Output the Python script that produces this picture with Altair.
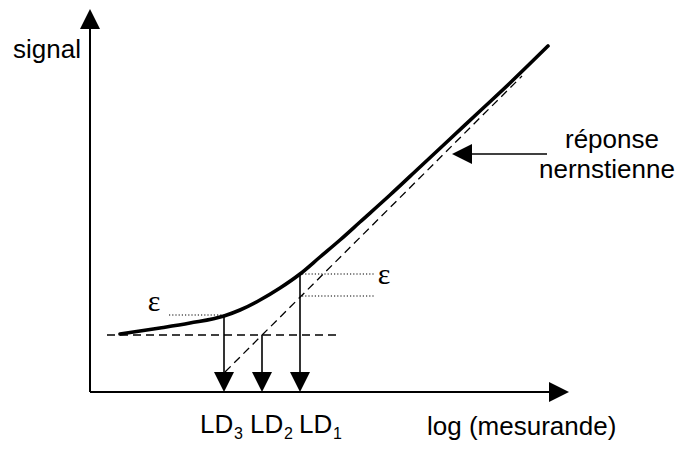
import altair as alt
import pandas as pd

# --- schematic values (reference pixel space) ---
curve_x = [120, 160, 190, 224, 240, 260, 280, 300, 320, 340, 360, 390, 420, 450, 480, 510, 548]
curve_y = [334, 328, 323, 316, 310, 300, 288, 274, 257, 240, 222, 195, 167, 139, 111, 83, 46]

axis_x1 = [90, 90]
axis_y1 = [392, 392]
axis_x2 = [90, 549]
axis_y2 = [29, 392]

arrow_x1 = [224, 262, 300, 472]
arrow_y1 = [316, 335, 274, 154]
arrow_x2 = [224, 262, 300, 547]
arrow_y2 = [372, 372, 372, 154]

dash_x1 = [107, 225]
dash_y1 = [335, 372]
dash_x2 = [340, 522]
dash_y2 = [335, 76]

dot_x1 = [169, 302, 302]
dot_y1 = [315, 274, 296]
dot_x2 = [224, 375, 375]
dot_y2 = [315, 274, 296]

UP = "M0,-1L1,1L-1,1Z"
DOWN = "M0,1L1,-1L-1,-1Z"
RIGHT = "M1,0L-1,-1L-1,1Z"
LEFT = "M-1,0L1,-1L1,1Z"
head_x = [90, 559, 224, 262, 300, 462]
head_y = [19, 392, 382, 382, 382, 154]
head_shape = [UP, RIGHT, DOWN, DOWN, DOWN, LEFT]

label_text = ["signal", "log (mesurande)", "LD", "LD", "LD", "réponse", "nernstienne"]
label_x = [13, 427, 200, 250, 299, 565, 539]
label_y = [58, 435, 433, 433, 433, 148, 178]

sub_text = ["3", "2", "1"]
sub_x = [234, 284, 333]
sub_y = [439, 439, 439]

eps_text = ["ε", "ε"]
eps_x = [154, 384]
eps_y = [302, 275]

# --- scales ---
W, H = 667, 434
xs = alt.Scale(domain=[8, 675], nice=False, zero=False)
ys = alt.Scale(domain=[442, 8], nice=False, zero=False)
X = lambda f: alt.X(f, type="quantitative", scale=xs, axis=None)
Y = lambda f: alt.Y(f, type="quantitative", scale=ys, axis=None)

def segs(x1, y1, x2, y2):
    return pd.DataFrame({"x": x1, "y": y1, "x2": x2, "y2": y2})

curve = alt.Chart(pd.DataFrame({"x": curve_x, "y": curve_y})).mark_line(
    color="black", strokeWidth=3.6, interpolate="monotone", strokeCap="round"
).encode(x=X("x"), y=Y("y"), order="x:Q")

axes = alt.Chart(segs(axis_x1, axis_y1, axis_x2, axis_y2)).mark_rule(
    color="black", strokeWidth=2
).encode(x=X("x"), y=Y("y"), x2="x2", y2="y2")

arrows = alt.Chart(segs(arrow_x1, arrow_y1, arrow_x2, arrow_y2)).mark_rule(
    color="black", strokeWidth=1.6
).encode(x=X("x"), y=Y("y"), x2="x2", y2="y2")

dashes = alt.Chart(segs(dash_x1, dash_y1, dash_x2, dash_y2)).mark_rule(
    color="black", strokeWidth=1.3, strokeDash=[8, 5]
).encode(x=X("x"), y=Y("y"), x2="x2", y2="y2")

dots = alt.Chart(segs(dot_x1, dot_y1, dot_x2, dot_y2)).mark_rule(
    color="black", strokeWidth=1.2, strokeDash=[1.2, 2]
).encode(x=X("x"), y=Y("y"), x2="x2", y2="y2")

heads = alt.Chart(pd.DataFrame({"x": head_x, "y": head_y, "s": head_shape})).mark_point(
    filled=True, color="black", opacity=1, size=400, strokeWidth=0
).encode(x=X("x"), y=Y("y"), shape=alt.Shape("s:N", scale=None, legend=None))

labels = alt.Chart(pd.DataFrame({"t": label_text, "x": label_x, "y": label_y})).mark_text(
    align="left", baseline="alphabetic", font="Liberation Sans", fontSize=26, color="black"
).encode(x=X("x"), y=Y("y"), text="t:N")

subs = alt.Chart(pd.DataFrame({"t": sub_text, "x": sub_x, "y": sub_y})).mark_text(
    align="left", baseline="alphabetic", font="Liberation Sans", fontSize=16, color="black"
).encode(x=X("x"), y=Y("y"), text="t:N")

eps = alt.Chart(pd.DataFrame({"t": eps_text, "x": eps_x, "y": eps_y})).mark_text(
    align="center", baseline="middle", font="Liberation Serif", fontSize=30, color="black"
).encode(x=X("x"), y=Y("y"), text="t:N")

chart = alt.layer(axes, dashes, dots, arrows, curve, heads, labels, subs, eps).properties(
    width=W, height=H, autosize=alt.AutoSizeParams(type="none"), padding=0
).configure_view(strokeWidth=0)

chart.save("out.html", embed_options={"renderer": "svg", "actions": False})
